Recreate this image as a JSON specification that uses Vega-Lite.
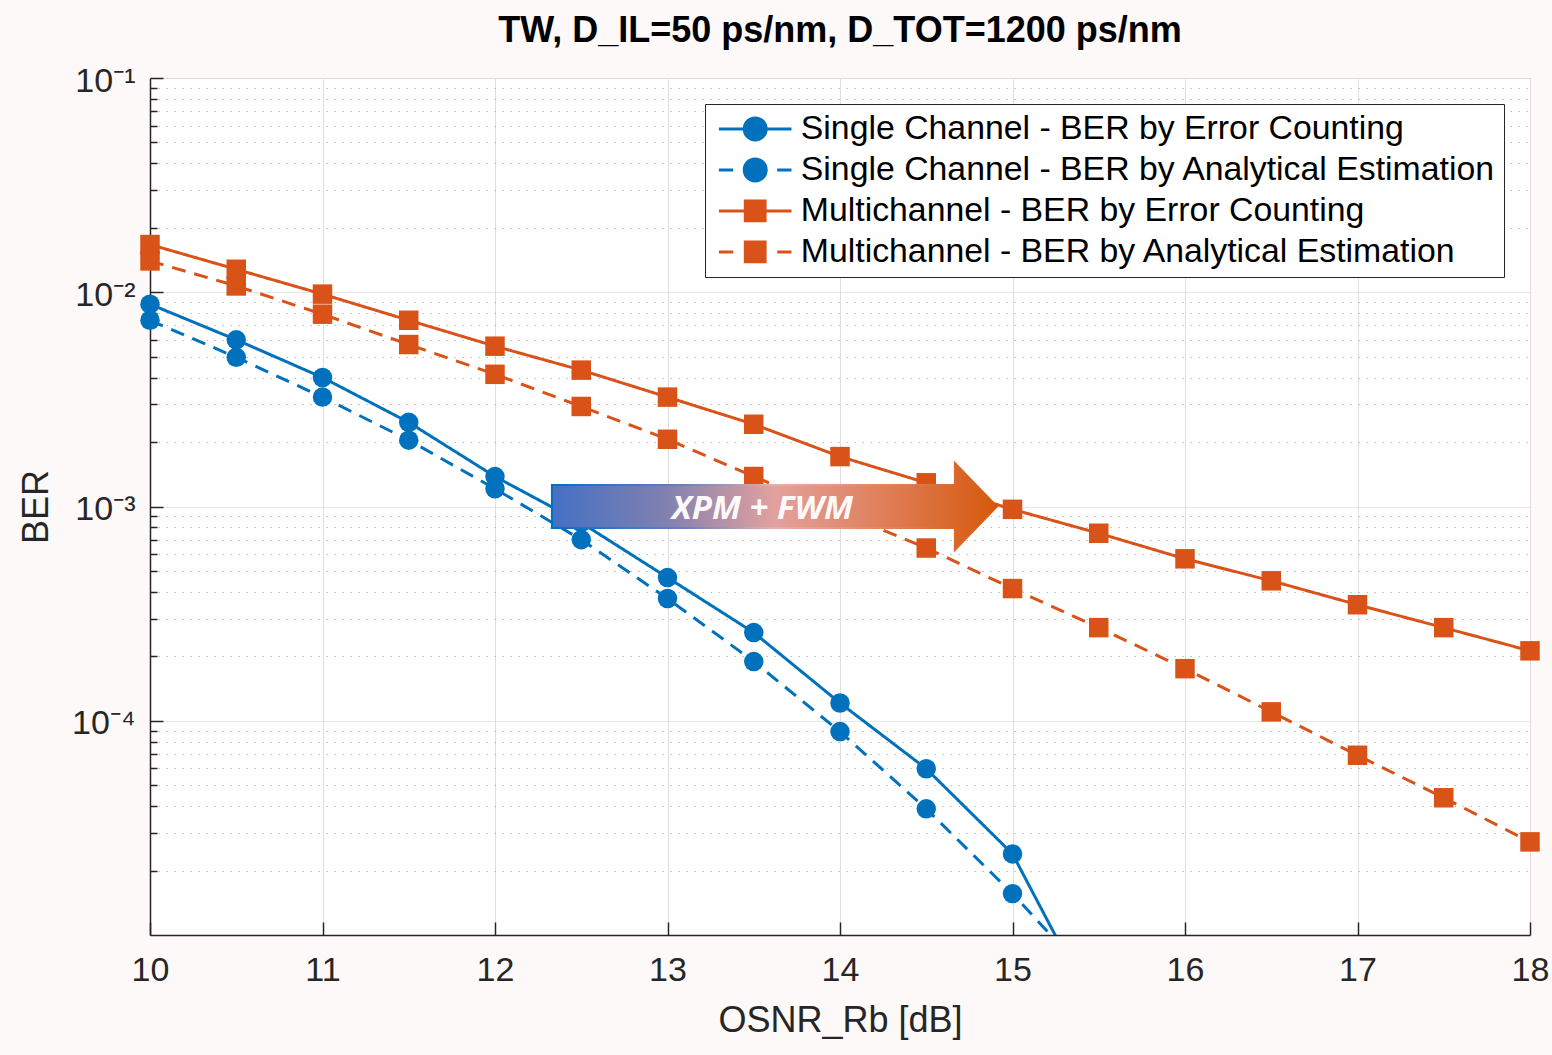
{
  "$schema": "https://vega.github.io/schema/vega-lite/v6.json",
  "width": 1380,
  "height": 857,
  "autosize": {"type": "none"},
  "padding": {"left": 150, "top": 78, "right": 22, "bottom": 120},
  "background": "#FDF9F8",
  "title": {
    "text": "TW, D_IL=50 ps/nm, D_TOT=1200 ps/nm",
    "font": "Liberation Sans",
    "fontSize": 36,
    "fontWeight": "bold",
    "color": "#000000",
    "anchor": "middle",
    "offset": 14
  },
  "config": {
    "view": {"fill": "white", "stroke": "#D9D9D9", "strokeWidth": 1},
    "axis": {
      "labelFont": "Liberation Sans",
      "labelFontSize": 34,
      "labelColor": "#262626",
      "labelFlush": false,
      "titleFont": "Liberation Sans",
      "titleFontSize": 36,
      "titleFontWeight": "normal",
      "titleColor": "#262626",
      "domainColor": "#262626",
      "domainWidth": 1.5,
      "tickColor": "#262626",
      "tickWidth": 1.5
    },
    "legend": {
      "orient": "top-right",
      "offset": 26,
      "labelFont": "Liberation Sans",
      "labelFontSize": 33.8,
      "labelColor": "#000000",
      "labelLimit": 0,
      "labelOffset": 54,
      "symbolSize": 484,
      "symbolStrokeWidth": 3,
      "fillColor": "white",
      "strokeColor": "#262626",
      "padding": 8,
      "rowPadding": 6
    }
  },
  "datasets": {
    "ber": [
      {"series": "Single Channel - BER by Error Counting", "osnr": 10, "ber": 0.0088},
      {"series": "Single Channel - BER by Error Counting", "osnr": 10.5, "ber": 0.006},
      {"series": "Single Channel - BER by Error Counting", "osnr": 11, "ber": 0.004},
      {"series": "Single Channel - BER by Error Counting", "osnr": 11.5, "ber": 0.00247},
      {"series": "Single Channel - BER by Error Counting", "osnr": 12, "ber": 0.00138},
      {"series": "Single Channel - BER by Error Counting", "osnr": 12.5, "ber": 0.00084},
      {"series": "Single Channel - BER by Error Counting", "osnr": 13, "ber": 0.000466},
      {"series": "Single Channel - BER by Error Counting", "osnr": 13.5, "ber": 0.000258},
      {"series": "Single Channel - BER by Error Counting", "osnr": 14, "ber": 0.000121},
      {"series": "Single Channel - BER by Error Counting", "osnr": 14.5, "ber": 0.0000597},
      {"series": "Single Channel - BER by Error Counting", "osnr": 15, "ber": 0.0000239},
      {"series": "Single Channel - BER by Error Counting", "osnr": 15.5, "ber": 0.0000041},
      {"series": "Single Channel - BER by Analytical Estimation", "osnr": 10, "ber": 0.0074},
      {"series": "Single Channel - BER by Analytical Estimation", "osnr": 10.5, "ber": 0.00497},
      {"series": "Single Channel - BER by Analytical Estimation", "osnr": 11, "ber": 0.00324},
      {"series": "Single Channel - BER by Analytical Estimation", "osnr": 11.5, "ber": 0.00204},
      {"series": "Single Channel - BER by Analytical Estimation", "osnr": 12, "ber": 0.00121},
      {"series": "Single Channel - BER by Analytical Estimation", "osnr": 12.5, "ber": 0.0007},
      {"series": "Single Channel - BER by Analytical Estimation", "osnr": 13, "ber": 0.000372},
      {"series": "Single Channel - BER by Analytical Estimation", "osnr": 13.5, "ber": 0.000189},
      {"series": "Single Channel - BER by Analytical Estimation", "osnr": 14, "ber": 0.000089},
      {"series": "Single Channel - BER by Analytical Estimation", "osnr": 14.5, "ber": 0.0000388},
      {"series": "Single Channel - BER by Analytical Estimation", "osnr": 15, "ber": 0.0000156},
      {"series": "Single Channel - BER by Analytical Estimation", "osnr": 15.5, "ber": 0.0000057},
      {"series": "Multichannel - BER by Error Counting", "osnr": 10, "ber": 0.0167},
      {"series": "Multichannel - BER by Error Counting", "osnr": 10.5, "ber": 0.0128},
      {"series": "Multichannel - BER by Error Counting", "osnr": 11, "ber": 0.0098},
      {"series": "Multichannel - BER by Error Counting", "osnr": 11.5, "ber": 0.0074},
      {"series": "Multichannel - BER by Error Counting", "osnr": 12, "ber": 0.0056},
      {"series": "Multichannel - BER by Error Counting", "osnr": 12.5, "ber": 0.00433},
      {"series": "Multichannel - BER by Error Counting", "osnr": 13, "ber": 0.00324},
      {"series": "Multichannel - BER by Error Counting", "osnr": 13.5, "ber": 0.00242},
      {"series": "Multichannel - BER by Error Counting", "osnr": 14, "ber": 0.00171},
      {"series": "Multichannel - BER by Error Counting", "osnr": 14.5, "ber": 0.00129},
      {"series": "Multichannel - BER by Error Counting", "osnr": 15, "ber": 0.00097},
      {"series": "Multichannel - BER by Error Counting", "osnr": 15.5, "ber": 0.00075},
      {"series": "Multichannel - BER by Error Counting", "osnr": 16, "ber": 0.00057},
      {"series": "Multichannel - BER by Error Counting", "osnr": 16.5, "ber": 0.00045},
      {"series": "Multichannel - BER by Error Counting", "osnr": 17, "ber": 0.000348},
      {"series": "Multichannel - BER by Error Counting", "osnr": 17.5, "ber": 0.000272},
      {"series": "Multichannel - BER by Error Counting", "osnr": 18, "ber": 0.000212},
      {"series": "Multichannel - BER by Analytical Estimation", "osnr": 10, "ber": 0.014},
      {"series": "Multichannel - BER by Analytical Estimation", "osnr": 10.5, "ber": 0.0107},
      {"series": "Multichannel - BER by Analytical Estimation", "osnr": 11, "ber": 0.0079},
      {"series": "Multichannel - BER by Analytical Estimation", "osnr": 11.5, "ber": 0.0057},
      {"series": "Multichannel - BER by Analytical Estimation", "osnr": 12, "ber": 0.00414},
      {"series": "Multichannel - BER by Analytical Estimation", "osnr": 12.5, "ber": 0.00293},
      {"series": "Multichannel - BER by Analytical Estimation", "osnr": 13, "ber": 0.00206},
      {"series": "Multichannel - BER by Analytical Estimation", "osnr": 13.5, "ber": 0.00138},
      {"series": "Multichannel - BER by Analytical Estimation", "osnr": 14, "ber": 0.00094},
      {"series": "Multichannel - BER by Analytical Estimation", "osnr": 14.5, "ber": 0.00064},
      {"series": "Multichannel - BER by Analytical Estimation", "osnr": 15, "ber": 0.000414},
      {"series": "Multichannel - BER by Analytical Estimation", "osnr": 15.5, "ber": 0.000272},
      {"series": "Multichannel - BER by Analytical Estimation", "osnr": 16, "ber": 0.000175},
      {"series": "Multichannel - BER by Analytical Estimation", "osnr": 16.5, "ber": 0.00011},
      {"series": "Multichannel - BER by Analytical Estimation", "osnr": 17, "ber": 0.000069},
      {"series": "Multichannel - BER by Analytical Estimation", "osnr": 17.5, "ber": 0.0000437},
      {"series": "Multichannel - BER by Analytical Estimation", "osnr": 18, "ber": 0.0000272}
    ],
    "notes": [
      {"kind": "arrow", "osnr": 13.62, "ber": 0.001, "text": ""},
      {"kind": "label", "osnr": 13.55, "ber": 0.00097, "text": "XPM + FWM"}
    ]
  },
  "encoding": {
    "x": {
      "field": "osnr",
      "type": "quantitative",
      "scale": {"domain": [10, 18], "nice": false, "zero": false},
      "axis": {
        "title": "OSNR_Rb [dB]",
        "values": [10, 11, 12, 13, 14, 15, 16, 17, 18],
        "format": "d",
        "grid": true,
        "gridColor": "#DFDFDF",
        "gridWidth": 1,
        "tickSize": -13,
        "labelPadding": 31,
        "titlePadding": 16
      }
    },
    "y": {
      "field": "ber",
      "type": "quantitative",
      "scale": {"type": "log", "domain": [0.00001, 0.1], "nice": false},
      "axis": {
        "title": "BER",
        "values": [0.00002, 0.00003, 0.00004, 0.00005, 0.00006, 0.00007, 0.00008, 0.00009, 0.0001, 0.0002, 0.0003, 0.0004, 0.0005, 0.0006, 0.0007, 0.0008, 0.0009, 0.001, 0.002, 0.003, 0.004, 0.005, 0.006, 0.007, 0.008, 0.009, 0.01, 0.02, 0.03, 0.04, 0.05, 0.06, 0.07, 0.08, 0.09, 0.1],
        "labelExpr": "datum.value === 0.1 ? '10⁻¹' : datum.value === 0.01 ? '10⁻²' : datum.value === 0.001 ? '10⁻³' : datum.value === 0.0001 ? '10⁻⁴' : ''",
        "grid": true,
        "gridColor": {"condition": {"test": "datum.value === 0.1 || datum.value === 0.01 || datum.value === 0.001 || datum.value === 0.0001", "value": "#DFDFDF"}, "value": "#BDBDBD"},
        "gridDash": {"condition": {"test": "datum.value === 0.1 || datum.value === 0.01 || datum.value === 0.001 || datum.value === 0.0001", "value": [1, 0]}, "value": [1.5, 6.5]},
        "tickSize": {"condition": {"test": "datum.value === 0.1 || datum.value === 0.01 || datum.value === 0.001 || datum.value === 0.0001", "value": -13}, "value": -7},
        "labelPadding": 28,
        "labelOffset": 3,
        "titlePadding": 16
      }
    }
  },
  "layer": [
    {
      "data": {"name": "ber"},
      "mark": {"type": "line", "strokeWidth": 3, "clip": true},
      "encoding": {
        "color": {
          "field": "series",
          "type": "nominal",
          "scale": {"range": ["#D95319", "#D95319", "#0072BD", "#0072BD"]},
          "legend": null
        },
        "strokeDash": {
          "field": "series",
          "type": "nominal",
          "scale": {"range": [[14, 9], [1, 0], [14, 9], [1, 0]]},
          "legend": null
        },
        "order": {"field": "osnr", "type": "quantitative"}
      }
    },
    {
      "data": {"name": "ber"},
      "transform": [
        {"filter": "indexof(datum.series, 'Single Channel') === 0 && datum.ber >= 0.00001"}
      ],
      "mark": {"type": "point", "shape": "circle", "filled": true, "size": 380, "opacity": 1},
      "encoding": {
        "color": {"field": "series", "type": "nominal", "legend": null}
      }
    },
    {
      "data": {"name": "ber"},
      "transform": [
        {"filter": "indexof(datum.series, 'Multichannel') === 0 && datum.ber >= 0.00001"}
      ],
      "mark": {"type": "point", "shape": "square", "filled": true, "size": 380, "opacity": 1},
      "encoding": {
        "color": {"field": "series", "type": "nominal", "legend": null}
      }
    },
    {
      "data": {"name": "ber"},
      "mark": {"type": "point", "filled": true, "opacity": 1, "size": 0},
      "encoding": {
        "fill": {
          "field": "series",
          "type": "nominal",
          "scale": {
            "domain": ["Single Channel - BER by Error Counting", "Single Channel - BER by Analytical Estimation", "Multichannel - BER by Error Counting", "Multichannel - BER by Analytical Estimation"],
            "range": ["#0072BD", "#0072BD", "#D95319", "#D95319"]
          },
          "legend": {"orient": "top-right", "offset": 26, "title": null}
        },
        "stroke": {
          "field": "series",
          "type": "nominal",
          "scale": {
            "domain": ["Single Channel - BER by Error Counting", "Single Channel - BER by Analytical Estimation", "Multichannel - BER by Error Counting", "Multichannel - BER by Analytical Estimation"],
            "range": ["#0072BD", "#0072BD", "#D95319", "#D95319"]
          },
          "legend": {"orient": "top-right", "offset": 26, "title": null}
        },
        "shape": {
          "field": "series",
          "type": "nominal",
          "scale": {
            "domain": ["Single Channel - BER by Error Counting", "Single Channel - BER by Analytical Estimation", "Multichannel - BER by Error Counting", "Multichannel - BER by Analytical Estimation"],
            "range": [
              "M-1,0H5.6M1.3,0A1,1,0,1,0,3.3,0A1,1,0,1,0,1.3,0Z",
              "M-1,0H0.3M4.3,0H5.6M1.3,0A1,1,0,1,0,3.3,0A1,1,0,1,0,1.3,0Z",
              "M-1,0H5.6M1.4,-0.9H3.2V0.9H1.4Z",
              "M-1,0H0.3M4.3,0H5.6M1.4,-0.9H3.2V0.9H1.4Z"
            ]
          },
          "legend": {"orient": "top-right", "offset": 26, "title": null}
        }
      }
    },
    {
      "data": {"name": "notes"},
      "transform": [{"filter": "datum.kind === 'arrow'"}],
      "mark": {
        "type": "point",
        "shape": "M-1,-0.097L0.811,-0.097L0.811,-0.196L1,0L0.811,0.196L0.811,0.097L-1,0.097Z",
        "size": 198025,
        "filled": true,
        "opacity": 1,
        "strokeWidth": 2,
        "fill": {
          "gradient": "linear",
          "x1": 0, "y1": 0, "x2": 1, "y2": 0,
          "stops": [
            {"offset": 0, "color": "#4470C4"},
            {"offset": 0.25, "color": "#7F80B0"},
            {"offset": 0.5, "color": "#E3A19E"},
            {"offset": 0.75, "color": "#E07E58"},
            {"offset": 1, "color": "#D5590C"}
          ]
        },
        "stroke": {
          "gradient": "linear",
          "x1": 0, "y1": 0, "x2": 1, "y2": 0,
          "stops": [
            {"offset": 0, "color": "#0070C0"},
            {"offset": 0.3, "color": "#6C7FC0"},
            {"offset": 0.5, "color": "#E8B0AC"},
            {"offset": 0.8, "color": "#E07A4E"},
            {"offset": 1, "color": "#D5590C"}
          ]
        }
      }
    },
    {
      "data": {"name": "notes"},
      "transform": [{"filter": "datum.kind === 'label'"}],
      "mark": {
        "type": "text",
        "font": "Open Sans",
        "fontSize": 33,
        "fontWeight": "bold",
        "fontStyle": "italic",
        "color": "#FFFFFF",
        "opacity": 0.95,
        "align": "center",
        "baseline": "middle"
      },
      "encoding": {
        "text": {"field": "text", "type": "nominal"}
      }
    }
  ]
}
